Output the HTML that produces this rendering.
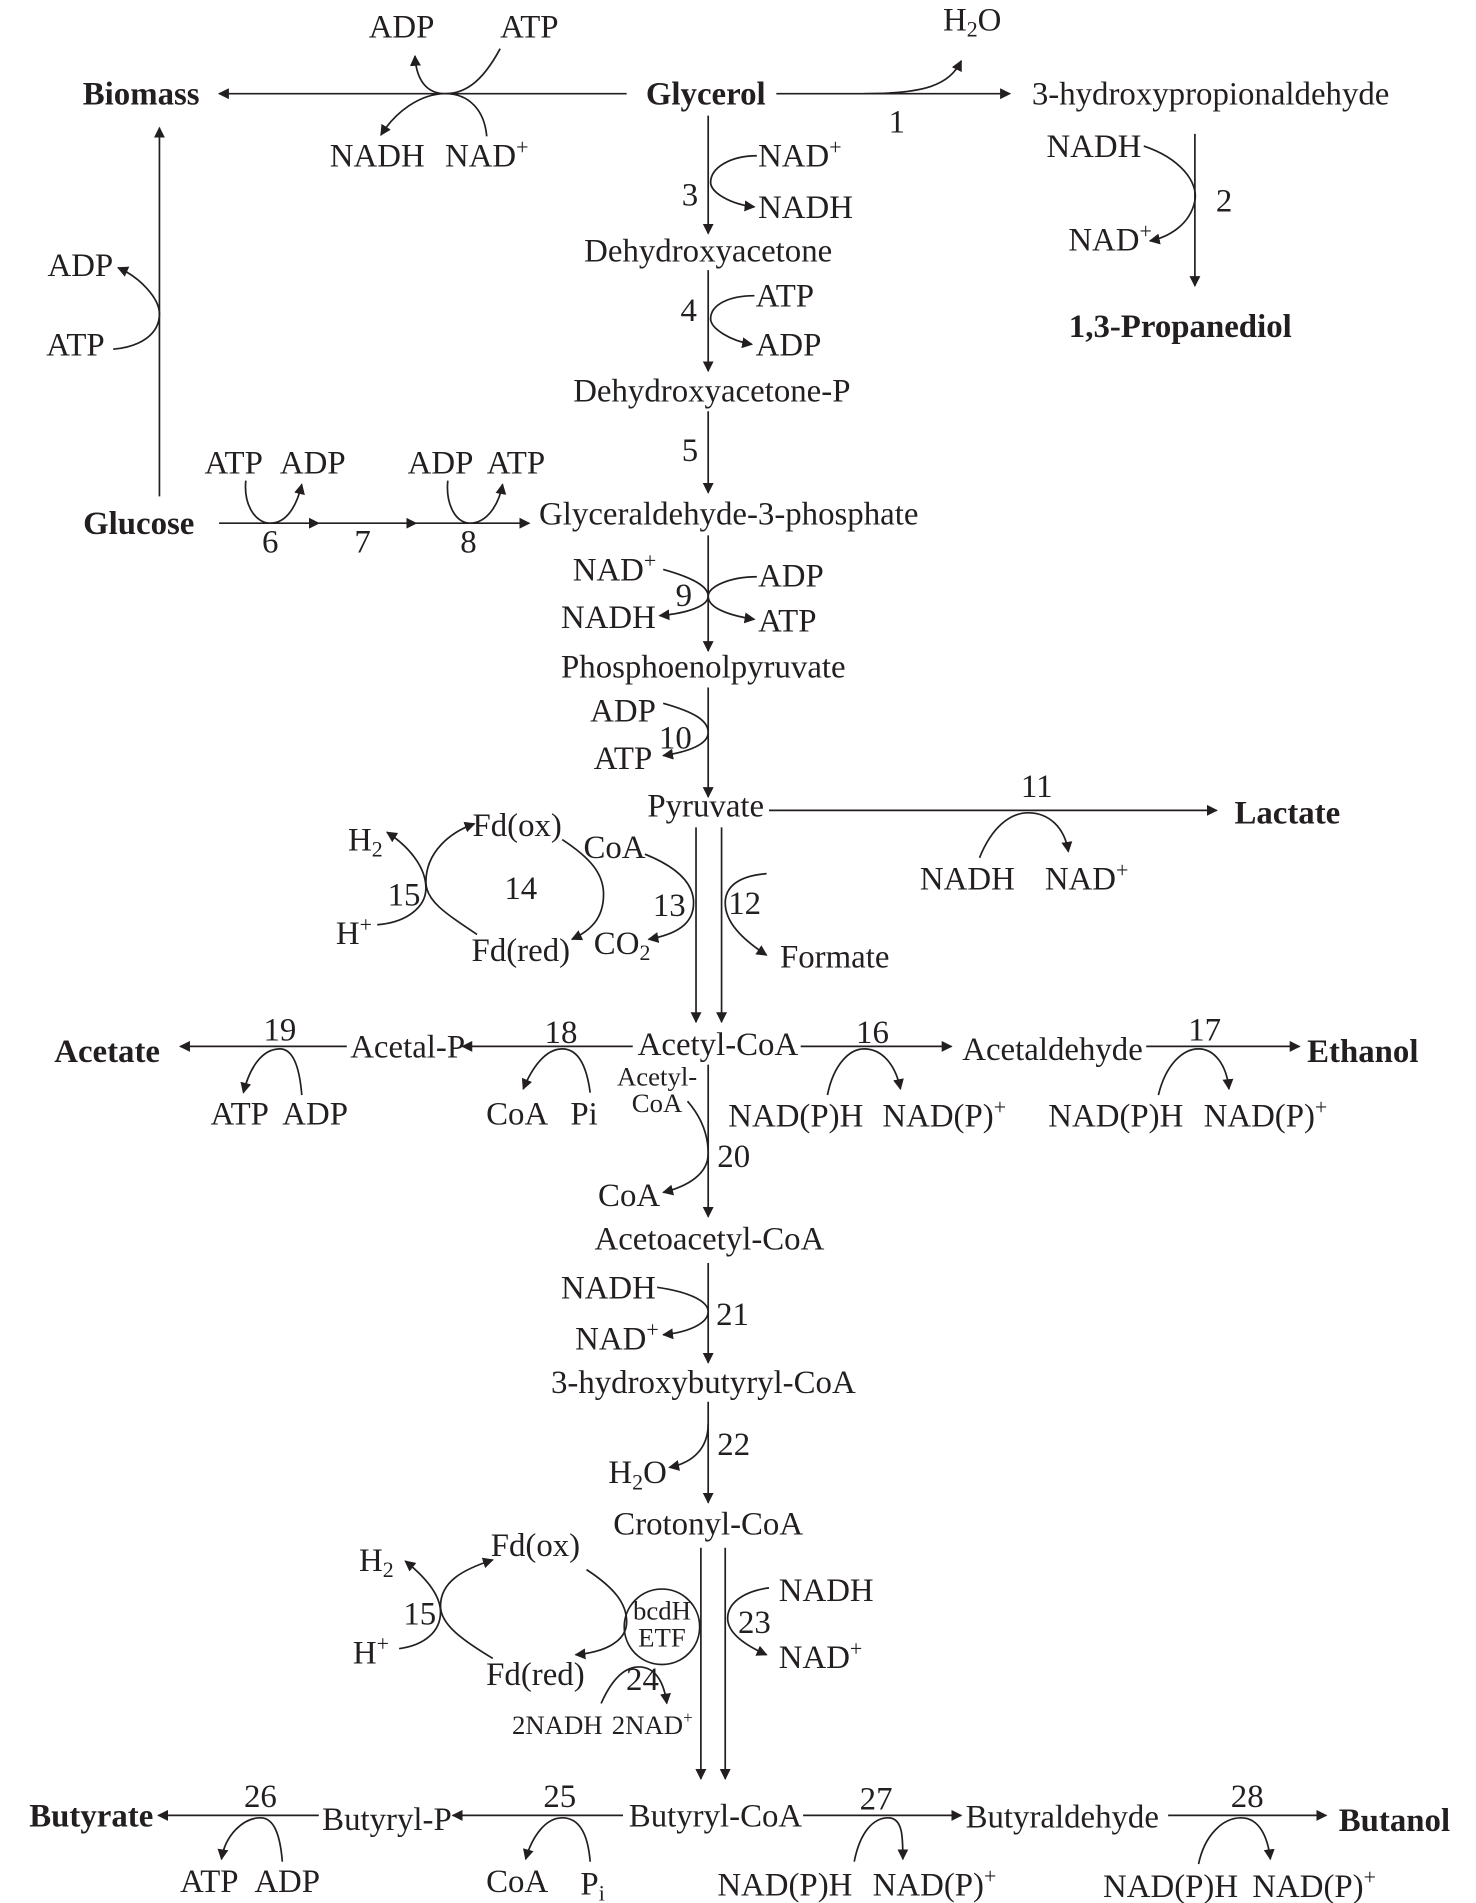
<!DOCTYPE html>
<html><head><meta charset="utf-8"><style>
html,body{margin:0;padding:0;background:#fff}
svg{display:block}
text{font-family:"Liberation Serif",serif;font-size:27px;fill:#231f20}
.b{font-weight:bold}
.s{font-size:18px}
.t{font-size:22px}
.m{text-anchor:middle}
path,line{stroke:#231f20;stroke-width:1.4;fill:none}
</style></head><body>
<svg width="1476" height="1903" viewBox="0 0 1213 1564" xmlns="http://www.w3.org/2000/svg">
<defs><marker id="a" viewBox="0 0 10 10" refX="9" refY="5" markerWidth="9" markerHeight="9" markerUnits="userSpaceOnUse" orient="auto"><path d="M0,0 L10,5 L0,10 z" style="fill:#231f20;stroke:none"/></marker></defs>

<!-- top row -->
<text class="b m" x="116" y="86">Biomass</text>
<line x1="515" y1="77" x2="180" y2="77" marker-end="url(#a)"/>
<text class="m" x="330" y="31">ADP</text><text class="m" x="435" y="31">ATP</text>
<text class="m" x="310" y="137">NADH</text><text class="m" x="400" y="137">NAD<tspan class="s" dy="-10">+</tspan></text>
<path d="M411,40 C395,70 380,77 366,77 C350,77 342,65 341,46" marker-end="url(#a)"/>
<path d="M400,112 C398,90 385,77 366,77 C345,77 325,92 313,111" marker-end="url(#a)"/>
<text class="b m" x="580" y="86">Glycerol</text>
<line x1="638" y1="77" x2="830" y2="77" marker-end="url(#a)"/>
<path d="M710,77 C760,77 780,70 790,50" marker-end="url(#a)"/>
<text x="775" y="25">H<tspan class="s" dy="5">2</tspan><tspan dy="-5">O</tspan></text>
<text class="m" x="737" y="109">1</text>
<text x="848" y="86">3-hydroxypropionaldehyde</text>
<line x1="982" y1="110" x2="982" y2="235" marker-end="url(#a)"/>
<text x="860" y="129">NADH</text>
<path d="M940,120 C970,130 985,150 982,165 C978,185 960,195 945,198" marker-end="url(#a)"/>
<text x="878" y="206">NAD<tspan class="s" dy="-10">+</tspan></text>
<text class="m" x="1006" y="174">2</text>
<text class="b m" x="970" y="277">1,3-Propanediol</text>

<!-- main chain top -->
<line x1="582" y1="95" x2="582" y2="192" marker-end="url(#a)"/>
<text class="m" x="567" y="169">3</text>
<path d="M622,128 C600,128 584,138 584,150 C584,158 600,168 620,170" marker-end="url(#a)"/>
<text x="623" y="137">NAD<tspan class="s" dy="-10">+</tspan></text>
<text x="623" y="179">NADH</text>
<text class="m" x="582" y="215">Dehydroxyacetone</text>
<line x1="582" y1="222" x2="582" y2="305" marker-end="url(#a)"/>
<text class="m" x="566" y="264">4</text>
<path d="M620,243 C600,243 584,250 584,262 C584,270 600,280 618,283" marker-end="url(#a)"/>
<text x="621" y="252">ATP</text><text x="621" y="292">ADP</text>
<text class="m" x="585" y="330">Dehydroxyacetone-P</text>
<line x1="582" y1="338" x2="582" y2="405" marker-end="url(#a)"/>
<text class="m" x="567" y="379">5</text>
<text x="443" y="431">Glyceraldehyde-3-phosphate</text>

<!-- glucose -->
<text class="b m" x="114" y="439">Glucose</text>
<line x1="180" y1="430" x2="262" y2="430" marker-end="url(#a)"/>
<line x1="262" y1="430" x2="342" y2="430" marker-end="url(#a)"/>
<line x1="342" y1="430" x2="435" y2="430" marker-end="url(#a)"/>
<text class="m" x="222" y="454">6</text><text class="m" x="298" y="454">7</text><text class="m" x="385" y="454">8</text>
<text class="m" x="192" y="389">ATP</text><text class="m" x="257" y="389">ADP</text>
<text class="m" x="362" y="389">ADP</text><text class="m" x="424" y="389">ATP</text>
<path d="M202,395 C200,415 210,430 222,430 C236,430 244,415 248,398" marker-end="url(#a)"/>
<path d="M368,395 C366,415 375,430 386,430 C400,430 410,415 413,398" marker-end="url(#a)"/>
<line x1="131" y1="408" x2="131" y2="105" marker-end="url(#a)"/>
<text class="m" x="66" y="227">ADP</text><text class="m" x="62" y="292">ATP</text>
<path d="M93,287 C115,285 131,275 131,258 C131,245 115,228 97,220" marker-end="url(#a)"/>

<!-- 9 -->
<line x1="582" y1="440" x2="582" y2="535" marker-end="url(#a)"/>
<text class="m" x="562" y="498">9</text>
<text class="m" x="505" y="477">NAD<tspan class="s" dy="-10">+</tspan></text>
<text class="m" x="500" y="516">NADH</text>
<text x="623" y="482">ADP</text><text x="623" y="519">ATP</text>
<path d="M545,468 C570,475 582,482 582,490 C582,498 565,504 542,506" marker-end="url(#a)"/>
<path d="M622,474 C600,474 582,482 582,490 C582,500 600,506 620,509" marker-end="url(#a)"/>
<text class="m" x="578" y="557">Phosphoenolpyruvate</text>
<line x1="582" y1="565" x2="582" y2="655" marker-end="url(#a)"/>
<text class="m" x="512" y="593">ADP</text><text class="m" x="512" y="632">ATP</text>
<text class="m" x="555" y="615">10</text>
<path d="M545,578 C570,585 582,592 582,602 C582,612 565,618 545,621" marker-end="url(#a)"/>
<text class="m" x="580" y="671">Pyruvate</text>
<line x1="632" y1="666" x2="1000" y2="666" marker-end="url(#a)"/>
<text class="m" x="852" y="655">11</text>
<path d="M805,705 C815,680 830,668 845,668 C862,668 875,680 878,700" marker-end="url(#a)"/>
<text class="m" x="795" y="731">NADH</text><text class="m" x="893" y="731">NAD<tspan class="s" dy="-10">+</tspan></text>
<text class="b m" x="1058" y="677">Lactate</text>

<!-- pyruvate -> acetyl-CoA -->
<line x1="572" y1="680" x2="572" y2="840" marker-end="url(#a)"/>
<line x1="593" y1="680" x2="593" y2="840" marker-end="url(#a)"/>
<text class="m" x="505" y="705">CoA</text>
<path d="M530,702 C555,712 570,725 570,742 C570,760 555,768 533,772" marker-end="url(#a)"/>
<text class="m" x="550" y="753">13</text>
<text x="488" y="784">CO<tspan class="s" dy="5">2</tspan></text>
<text class="m" x="612" y="751">12</text>
<path d="M630,718 C605,720 596,730 596,742 C596,758 610,772 630,785" marker-end="url(#a)"/>
<text class="m" x="686" y="795">Formate</text>
<text x="286" y="699">H<tspan class="s" dy="5">2</tspan></text>
<text x="276" y="776">H<tspan class="s" dy="-10">+</tspan></text>
<text class="m" x="332" y="744">15</text>
<text class="m" x="425" y="687">Fd(ox)</text>
<text class="m" x="428" y="739">14</text>
<text class="m" x="428" y="790">Fd(red)</text>
<path d="M392,768 C365,750 350,740 350,725 C350,700 370,684 390,677" marker-end="url(#a)"/>
<path d="M310,760 C335,758 350,745 350,730 C350,712 335,695 318,684" marker-end="url(#a)"/>
<path d="M462,690 C485,705 496,718 496,735 C496,755 485,765 470,772" marker-end="url(#a)"/>

<!-- acetyl-CoA row -->
<text class="m" x="590" y="867">Acetyl-CoA</text>
<line x1="658" y1="860" x2="782" y2="860" marker-end="url(#a)"/>
<text class="m" x="717" y="857">16</text>
<text class="m" x="865" y="871">Acetaldehyde</text>
<line x1="942" y1="860" x2="1068" y2="860" marker-end="url(#a)"/>
<text class="m" x="990" y="855">17</text>
<text class="b m" x="1120" y="873">Ethanol</text>
<path d="M680,900 C685,875 698,862 710,862 C725,862 736,875 740,895" marker-end="url(#a)"/>
<path d="M952,900 C958,875 972,862 985,862 C998,862 1008,875 1010,895" marker-end="url(#a)"/>
<text class="m" x="654" y="926">NAD(P)H</text><text class="m" x="776" y="926">NAD(P)<tspan class="s" dy="-10">+</tspan></text>
<text class="m" x="917" y="926">NAD(P)H</text><text class="m" x="1040" y="926">NAD(P)<tspan class="s" dy="-10">+</tspan></text>
<line x1="520" y1="860" x2="380" y2="860" marker-end="url(#a)"/>
<text class="m" x="461" y="857">18</text>
<text class="m" x="335" y="869">Acetal-P</text>
<line x1="285" y1="860" x2="148" y2="860" marker-end="url(#a)"/>
<text class="m" x="230" y="855">19</text>
<text class="b m" x="88" y="873">Acetate</text>
<text class="m" x="197" y="924">ATP</text><text class="m" x="259" y="924">ADP</text>
<text class="m" x="425" y="924">CoA</text><text class="m" x="480" y="924">Pi</text>
<path d="M248,900 C246,875 240,862 230,862 C215,862 205,878 200,898" marker-end="url(#a)"/>
<path d="M485,898 C482,875 475,862 462,862 C448,862 437,878 430,895" marker-end="url(#a)"/>
<text class="t m" x="540" y="892">Acetyl-</text>
<text class="t m" x="540" y="914">CoA</text>
<line x1="582" y1="875" x2="582" y2="1000" marker-end="url(#a)"/>
<text class="m" x="603" y="959">20</text>
<text class="m" x="517" y="991">CoA</text>
<path d="M565,905 C578,920 582,935 582,948 C582,965 565,975 545,980" marker-end="url(#a)"/>
<text class="m" x="583" y="1027">Acetoacetyl-CoA</text>
<line x1="582" y1="1038" x2="582" y2="1120" marker-end="url(#a)"/>
<text class="m" x="500" y="1067">NADH</text>
<text class="m" x="507" y="1109">NAD<tspan class="s" dy="-10">+</tspan></text>
<text class="m" x="602" y="1089">21</text>
<path d="M540,1058 C568,1062 582,1070 582,1078 C582,1088 565,1095 545,1097" marker-end="url(#a)"/>
<text class="m" x="578" y="1145">3-hydroxybutyryl-CoA</text>
<line x1="582" y1="1152" x2="582" y2="1235" marker-end="url(#a)"/>
<text class="m" x="603" y="1196">22</text>
<text x="500" y="1219">H<tspan class="s" dy="5">2</tspan><tspan dy="-5">O</tspan></text>
<path d="M582,1170 C582,1190 570,1202 550,1206" marker-end="url(#a)"/>
<text class="m" x="582" y="1261">Crotonyl-CoA</text>

<!-- crotonyl -> butyryl -->
<line x1="576" y1="1272" x2="576" y2="1462" marker-end="url(#a)"/>
<line x1="596" y1="1272" x2="596" y2="1462" marker-end="url(#a)"/>
<circle cx="544" cy="1337" r="31" style="stroke:#231f20;stroke-width:1.4;fill:none"/>
<text class="t m" x="544" y="1331">bcdH</text>
<text class="t m" x="544" y="1353">ETF</text>
<text x="640" y="1316">NADH</text>
<text x="640" y="1371">NAD<tspan class="s" dy="-10">+</tspan></text>
<text class="m" x="620" y="1342">23</text>
<path d="M632,1305 C610,1308 598,1318 598,1330 C598,1342 612,1352 630,1360" marker-end="url(#a)"/>
<text class="m" x="528" y="1389">24</text>
<text class="t m" x="458" y="1425">2NADH</text>
<text class="t m" x="536" y="1425">2NAD<tspan style="font-size:14px" dy="-9">+</tspan></text>
<path d="M494,1400 C502,1382 512,1370 525,1370 C540,1370 546,1385 548,1400" marker-end="url(#a)"/>
<text x="295" y="1291">H<tspan class="s" dy="5">2</tspan></text>
<text x="290" y="1367">H<tspan class="s" dy="-10">+</tspan></text>
<text class="m" x="345" y="1335">15</text>
<text class="m" x="440" y="1279">Fd(ox)</text>
<text class="m" x="440" y="1385">Fd(red)</text>
<path d="M405,1363 C380,1348 362,1335 362,1320 C362,1300 380,1290 405,1282" marker-end="url(#a)"/>
<path d="M328,1355 C350,1352 362,1340 362,1325 C362,1310 348,1295 333,1283" marker-end="url(#a)"/>
<path d="M482,1290 C505,1305 515,1318 515,1333 C515,1350 495,1358 473,1360" marker-end="url(#a)"/>

<!-- butyryl row -->
<text class="m" x="588" y="1501">Butyryl-CoA</text>
<line x1="660" y1="1492" x2="790" y2="1492" marker-end="url(#a)"/>
<text class="m" x="720" y="1487">27</text>
<text class="m" x="873" y="1502">Butyraldehyde</text>
<line x1="960" y1="1492" x2="1090" y2="1492" marker-end="url(#a)"/>
<text class="m" x="1025" y="1485">28</text>
<text class="b m" x="1146" y="1505">Butanol</text>
<path d="M702,1530 C707,1505 718,1494 730,1494 C742,1494 742,1510 742,1528" marker-end="url(#a)"/>
<path d="M985,1532 C990,1508 1005,1494 1020,1494 C1035,1494 1042,1510 1044,1528" marker-end="url(#a)"/>
<text class="m" x="645" y="1558">NAD(P)H</text><text class="m" x="768" y="1558">NAD(P)<tspan class="s" dy="-10">+</tspan></text>
<text class="m" x="962" y="1559">NAD(P)H</text><text class="m" x="1080" y="1559">NAD(P)<tspan class="s" dy="-10">+</tspan></text>
<line x1="512" y1="1492" x2="372" y2="1492" marker-end="url(#a)"/>
<text class="m" x="460" y="1485">25</text>
<text class="m" x="318" y="1504">Butyryl-P</text>
<line x1="262" y1="1492" x2="130" y2="1492" marker-end="url(#a)"/>
<text class="m" x="214" y="1485">26</text>
<text class="b m" x="75" y="1501">Butyrate</text>
<text class="m" x="172" y="1555">ATP</text><text class="m" x="236" y="1555">ADP</text>
<text class="m" x="425" y="1555">CoA</text><text x="477" y="1557">P<tspan class="s" dy="5">i</tspan></text>
<path d="M232,1530 C230,1505 224,1494 214,1494 C200,1494 185,1508 182,1528" marker-end="url(#a)"/>
<path d="M485,1530 C483,1505 475,1494 462,1494 C448,1494 437,1510 432,1528" marker-end="url(#a)"/>
</svg>
</body></html>
